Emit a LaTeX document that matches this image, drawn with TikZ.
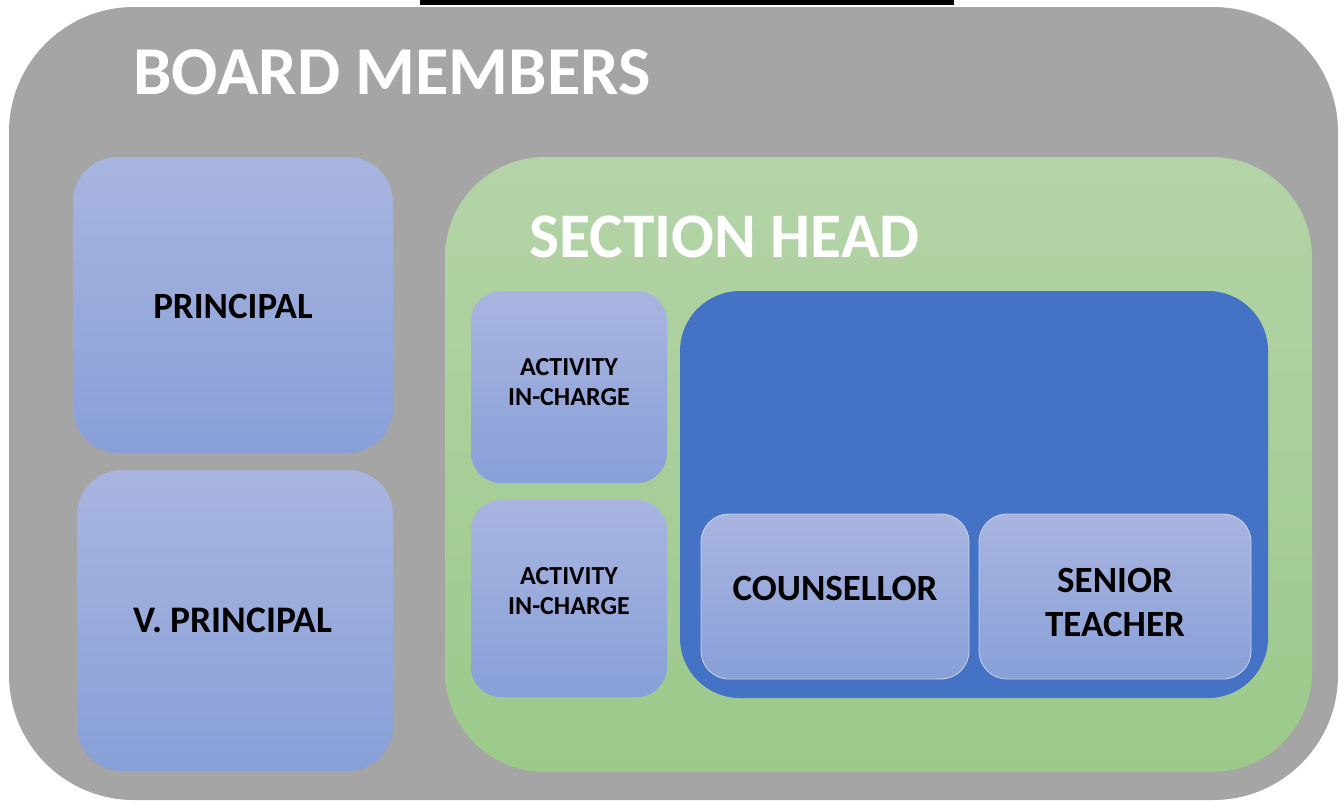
\documentclass[tikz,border=0pt]{standalone}
\usepackage{fontspec}
\setmainfont{Carlito}
\definecolor{boardgray}{HTML}{A5A5A5}
\definecolor{greentop}{HTML}{B4D4A8}
\definecolor{greenbot}{HTML}{9CC98A}
\definecolor{bluetop}{HTML}{A9B5E0}
\definecolor{bluebot}{HTML}{88A0D8}
\definecolor{darkblue}{HTML}{4472C4}
\begin{document}
\begin{tikzpicture}[x=1pt,y=-1pt,
  panel/.style={rectangle,inner sep=0pt,outer sep=0pt},
  lightbox/.style={panel,top color=bluetop,bottom color=bluebot,font=\bfseries,text=black,align=center},
  label/.style={inner sep=0pt,align=center,text=black},
  bigtitle/.style={inner sep=0pt,font=\fontsize{68.5}{80}\selectfont\bfseries,text=white,anchor=base west}]
\useasboundingbox (0,0) rectangle (1340,804);
\fill[white] (0,0) rectangle (1340,804);
\fill[black] (420,0) rectangle (954,5);
% board
\node[panel,fill=boardgray,minimum width=1329pt,minimum height=793pt,rounded corners=125pt] (board) at (673.5,403.5) {};
\node[bigtitle] (boardtitle) at (133,94) {BOARD MEMBERS};
% principal boxes
\node[lightbox,minimum width=320pt,minimum height=296pt,rounded corners=45pt] (principal) at (233,305) {};
\node[label,font=\fontsize{37}{40}\selectfont\bfseries] (principaltext) at (233,306) {PRINCIPAL};
\node[lightbox,minimum width=316pt,minimum height=301pt,rounded corners=45pt] (vprincipal) at (235,620.5) {};
\node[label,font=\fontsize{37.5}{40}\selectfont\bfseries] (vprincipaltext) at (233,620) {V. PRINCIPAL};
% section head
\node[panel,top color=greentop,bottom color=greenbot,minimum width=867pt,minimum height=615pt,rounded corners=100pt] (section) at (878.5,464.5) {};
\node[bigtitle,font=\fontsize{63.5}{80}\selectfont\bfseries] (sectiontitle) at (529,257) {SECTION HEAD};
% activity boxes
\node[lightbox,minimum width=196pt,minimum height=192pt,rounded corners=30pt] (act1) at (569,387) {};
\node[label,font=\fontsize{26}{30}\selectfont\bfseries] (act1text) at (569,382) {ACTIVITY\\IN-CHARGE};
\node[lightbox,minimum width=196pt,minimum height=197pt,rounded corners=30pt] (act2) at (569,598.5) {};
\node[label,font=\fontsize{26}{30}\selectfont\bfseries] (act2text) at (569,591) {ACTIVITY\\IN-CHARGE};
% dark blue panel
\node[panel,fill=darkblue,minimum width=588pt,minimum height=407pt,rounded corners=60pt] (inner) at (974,494.5) {};
\node[lightbox,draw=bluetop!60!white,line width=0.8pt,minimum width=268pt,minimum height=165pt,rounded corners=28pt] (counsbox) at (835,596.5) {};
\node[lightbox,draw=bluetop!60!white,line width=0.8pt,minimum width=272pt,minimum height=165pt,rounded corners=28pt] (seniorbox) at (1115,596.5) {};
\node[label,font=\fontsize{37}{44}\selectfont\bfseries] (couns) at (835,588) {COUNSELLOR};
\node[label,font=\fontsize{37}{44}\selectfont\bfseries] (senior) at (1115,602) {SENIOR\\TEACHER};
\end{tikzpicture}
\end{document}
